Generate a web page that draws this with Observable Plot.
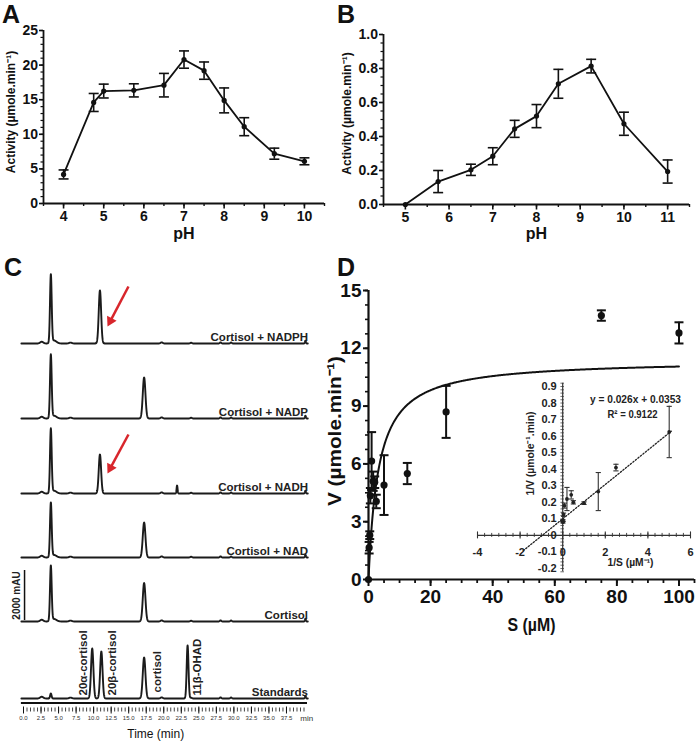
<!DOCTYPE html>
<html><head><meta charset="utf-8">
<script src="https://cdn.jsdelivr.net/npm/d3@7"></script>
<script src="https://cdn.jsdelivr.net/npm/@observablehq/plot@0.6"></script>
<style>
body{margin:0;background:#fff;}
#page{position:relative;width:697px;height:746px;overflow:hidden;background:#fff;}
.panel{position:absolute;}
.panel svg{max-width:none !important;display:block;overflow:visible;}
.letter{position:absolute;font:bold 25px "Liberation Sans",Arial,sans-serif;line-height:25px;color:#111;}
</style></head><body><div id="page"></div>
<script>
// ---------- DATA ----------
// Panel A: activity vs pH
const phA = [4, 4.75, 5, 5.75, 6.5, 7, 7.5, 8, 8.5, 9.25, 10];
const actA = [4.2, 14.6, 16.25, 16.35, 17.1, 20.8, 19.2, 14.9, 11.1, 7.2, 6.1];
const errA = [0.65, 1.3, 1.0, 0.95, 1.7, 1.25, 1.25, 1.8, 1.3, 0.8, 0.5];
const ticksAx = [4, 5, 6, 7, 8, 9, 10];
const ticksAy = [0, 5, 10, 15, 20, 25];
// Panel B
const phB = [5, 5.75, 6.5, 7, 7.5, 8, 8.5, 9.25, 10, 11];
const actB = [0, 0.135, 0.204, 0.284, 0.445, 0.52, 0.71, 0.814, 0.475, 0.194];
const errB = [0, 0.065, 0.033, 0.05, 0.05, 0.068, 0.085, 0.04, 0.068, 0.068];
const ticksBx = [5, 6, 7, 8, 9, 10, 11];
const ticksBy = [0, 0.2, 0.4, 0.6, 0.8, 1.0];
// Panel C: chromatograms (peak tables: retention time min, height mAU, sigma min)
const rowNames = ["Cortisol + NADPH", "Cortisol + NADP", "Cortisol + NADH", "Cortisol + NAD", "Cortisol", "Standards"];
const rowOffset = [14200, 11200, 8200, 5640, 3080, 0];
const peakRow    = [0, 0, 0,   1, 1, 1,   2, 2, 2, 2,   3, 3, 3,   4, 4, 4,   5, 5, 5, 5, 5];
const peakTime   = [3.9, 4.35, 10.9,  3.9, 4.35, 17.2,  3.9, 4.35, 10.9, 21.9,  3.9, 4.35, 17.2,  3.9, 4.35, 17.2,  3.9, 9.8, 11.1, 17.2, 23.4];
const peakHeight = [2720, 120, 2120,  2520, 110, 1640,  2560, 110, 1560, 320,  2160, 100, 1400,  2200, 100, 1540,  200, 2000, 1880, 1640, 2120];
const peakSigma  = [0.12, 0.35, 0.17,  0.12, 0.35, 0.19,  0.12, 0.35, 0.17, 0.07,  0.12, 0.35, 0.19,  0.12, 0.35, 0.19,  0.1, 0.17, 0.17, 0.19, 0.13];
const bumpTime   = [2.6, 6.7, 19.7, 23.9, 28.1, 29.6, 40.2];
const bumpHeight = [70, 35, 45, 30, 45, 40, 110];
const bumpSigma  = [0.22, 0.2, 0.15, 0.12, 0.1, 0.1, 0.07];
const timeMajor = [0, 2.5, 5, 7.5, 10, 12.5, 15, 17.5, 20, 22.5, 25, 27.5, 30, 32.5, 35, 37.5];
const stdLabels = ["20α-cortisol", "20β-cortisol", "cortisol", "11β-OHAD"];
const stdLabelTime = [8.56, 12.7, 19.1, 24.8];
const stdLabelBase = [120, 120, 240, 120];
const arrowRow = ["Cortisol + NADPH", "Cortisol + NADH"];
const arrowT1 = [14.97, 14.97], arrowV1 = [16480, 10560];
const arrowT2 = [11.98, 11.98], arrowV2 = [14880, 9000];
const scaleBarMAU = 2000;
// Panel D: Michaelis-Menten
const S_uM = [0, 0.2, 0.4, 0.6, 1, 1.5, 2, 2.5, 5, 12.5, 25, 75, 100];
const V_rate = [0, 1.65, 2.3, 4.35, 6.15, 5.1, 5.05, 4.05, 4.9, 5.5, 8.7, 13.7, 12.8];
const V_err = [0, 0.3, 0.2, 0.4, 1.5, 0.5, 0.3, 0.35, 1.55, 0.55, 1.35, 0.27, 0.55];
const Vmax = 11.41, Km = 3.23;
const ticksDx = [0, 20, 40, 60, 80, 100];
const ticksDy = [0, 3, 6, 9, 12, 15];
// Inset: Lineweaver-Burk
const invS = [5, 2.5, 1.67, 1, 0.5, 0.4, 0.2, 0.08, 0.04, 0.0133, 0.01];
const invV = [0.625, 0.41, 0.265, 0.195, 0.2, 0.245, 0.22, 0.18, 0.125, 0.08, 0.09];
const invErr = [0.155, 0.02, 0.115, 0.008, 0.01, 0.025, 0.07, 0.015, 0.01, 0.005, 0.005];
const fitX = [-1.85, 5.1], fitY = [-0.092, 0.63];
const insetXTicks = [-4, -2, 0, 2, 4, 6];
const insetYTicks = [-0.2, -0.1, 0, 0.1, 0.2, 0.3, 0.4, 0.5, 0.6, 0.7, 0.8, 0.9];

// ---------- HELPERS ----------
const F = '"Liberation Sans", Arial, Helvetica, sans-serif';
const FN = '"Liberation Sans Narrow", "Arial Narrow", "Liberation Sans", Arial, sans-serif';
const INK = "#111";
const RED = "#d8262c";
const capSym = {draw(ctx, size) { const r = Math.sqrt(size / Math.PI); ctx.moveTo(-r, 0); ctx.lineTo(r, 0); }};
const page = document.getElementById("page");
function place(el, left, top) { const d = document.createElement("div"); d.className = "panel"; d.style.left = left + "px"; d.style.top = top + "px"; d.appendChild(el); page.appendChild(d); return el; }
function letter(txt, left, top) { const d = document.createElement("div"); d.className = "letter"; d.textContent = txt; d.style.left = left + "px"; d.style.top = top + "px"; page.appendChild(d); }
function squeeze(svg, content, len) {
  svg.querySelectorAll("text").forEach(t => { if (t.textContent === content) { t.setAttribute("textLength", len); t.setAttribute("lengthAdjust", "spacingAndGlyphs"); } });
}
const baseStyle = {fontFamily: F, color: INK, background: "transparent", overflow: "visible"};

// ---------- PANEL A ----------
const dataA = phA.map((x, i) => ({x, y: actA[i], e: errA[i]}));
place(Plot.plot({
  width: 335, height: 255, marginLeft: 43, marginRight: 11, marginTop: 30, marginBottom: 52,
  x: {domain: [3.5, 10.5]}, y: {domain: [0, 25]}, style: baseStyle,
  marks: [
    Plot.axisX(d3.range(3.5, 10.51, 0.5), {tickSize: 3, tickFormat: () => "", strokeWidth: 1.4, label: null}),
    Plot.axisX(ticksAx, {tickSize: 5.5, tickPadding: 2.5, fontSize: 14, fontWeight: "bold", strokeWidth: 1.6, label: null}),
    Plot.axisY(d3.range(0, 25.01, 1), {tickSize: 2.5, tickFormat: () => "", strokeWidth: 1.2, label: null}),
    Plot.axisY(ticksAy, {tickSize: 4, tickPadding: 1.5, fontSize: 14, fontWeight: "bold", strokeWidth: 1.6, label: null}),
    Plot.ruleY([0], {strokeWidth: 1.8}),
    Plot.ruleX([3.5], {strokeWidth: 1.8}),
    Plot.ruleX(dataA, {x: "x", y1: d => d.y - d.e, y2: d => d.y + d.e, strokeWidth: 1.6}),
    Plot.dot(dataA, {x: "x", y: d => d.y - d.e, symbol: capSym, r: 5, stroke: INK, strokeWidth: 1.6}),
    Plot.dot(dataA, {x: "x", y: d => d.y + d.e, symbol: capSym, r: 5, stroke: INK, strokeWidth: 1.6}),
    Plot.line(dataA, {x: "x", y: "y", strokeWidth: 1.8, stroke: INK}),
    Plot.dot(dataA, {x: "x", y: "y", r: 2.6, fill: INK}),
    Plot.text(["Activity (µmole.min⁻¹)"], {frameAnchor: "left", textAnchor: "middle", dx: -32, dy: -5, rotate: -90, fontSize: 12, fontWeight: "bold"}),
    Plot.text(["pH"], {frameAnchor: "bottom", textAnchor: "middle", dy: 35, fontSize: 16, fontWeight: "bold"})
  ]
}), 0, 0);

// ---------- PANEL B ----------
const dataB = phB.map((x, i) => ({x, y: actB[i], e: errB[i]}));
place(Plot.plot({
  width: 362, height: 255, marginLeft: 48, marginRight: 8, marginTop: 34, marginBottom: 51,
  x: {domain: [4.5, 11.5]}, y: {domain: [0, 1]}, style: baseStyle,
  marks: [
    Plot.axisX(d3.range(4.5, 11.51, 0.5), {tickSize: 3, tickFormat: () => "", strokeWidth: 1.4, label: null}),
    Plot.axisX(ticksBx, {tickSize: 5.5, tickPadding: 2.5, fontSize: 14, fontWeight: "bold", strokeWidth: 1.6, label: null}),
    Plot.axisY(d3.range(0, 1.001, 0.05), {tickSize: 2.5, tickFormat: () => "", strokeWidth: 1.2, label: null}),
    Plot.axisY(ticksBy, {tickSize: 4, tickPadding: 1.5, tickFormat: d => d.toFixed(1), fontSize: 14, fontWeight: "bold", strokeWidth: 1.6, label: null}),
    Plot.ruleY([0], {strokeWidth: 1.8}),
    Plot.ruleX([4.5], {strokeWidth: 1.8}),
    Plot.ruleX(dataB, {x: "x", y1: d => d.y - d.e, y2: d => d.y + d.e, strokeWidth: 1.6}),
    Plot.dot(dataB.filter(d => d.e > 0), {x: "x", y: d => d.y - d.e, symbol: capSym, r: 5, stroke: INK, strokeWidth: 1.6}),
    Plot.dot(dataB.filter(d => d.e > 0), {x: "x", y: d => d.y + d.e, symbol: capSym, r: 5, stroke: INK, strokeWidth: 1.6}),
    Plot.line(dataB, {x: "x", y: "y", strokeWidth: 1.8, stroke: INK}),
    Plot.dot(dataB, {x: "x", y: "y", r: 2.6, fill: INK}),
    Plot.text(["Activity (µmole.min⁻¹)"], {frameAnchor: "left", textAnchor: "middle", dx: -36, dy: -6, rotate: -90, fontSize: 12, fontWeight: "bold"}),
    Plot.text(["pH"], {frameAnchor: "bottom", textAnchor: "middle", dy: 34, fontSize: 16, fontWeight: "bold"})
  ]
}), 335, 0);

// ---------- PANEL C ----------
const tGrid = d3.range(-0.3, 40.55, 0.02);
function signal(i, t) {
  let s = 0;
  peakRow.forEach((r, k) => { if (r === i) s += peakHeight[k] * Math.exp(-0.5 * ((t - peakTime[k]) / peakSigma[k]) ** 2); });
  bumpTime.forEach((bt, k) => { s += bumpHeight[k] * Math.exp(-0.5 * ((t - bt) / bumpSigma[k]) ** 2); });
  return s;
}
const traces = rowNames.flatMap((name, i) => tGrid.map(t => ({row: name, t, v: rowOffset[i] + signal(i, t)})));
const rowData = rowNames.map((name, i) => ({name, v: rowOffset[i]}));
const stdData = stdLabels.map((name, i) => ({name, t: stdLabelTime[i], v: stdLabelBase[i]}));
const timeMinor = d3.range(0, 40.01, 0.5);
const pxPerMin = 7.013, mauPerPx = 40;
const arrows = arrowRow.map((r, i) => {
  const dxp = (arrowT2[i] - arrowT1[i]) * pxPerMin, dyp = -(arrowV2[i] - arrowV1[i]) / mauPerPx;
  const L = Math.hypot(dxp, dyp), ux = dxp / L, uy = dyp / L;
  return {
    t1: arrowT1[i], v1: arrowV1[i],
    tl: arrowT2[i] - 8 * ux / pxPerMin, vl: arrowV2[i] + 8 * uy * mauPerPx,
    tc: arrowT2[i] - 6.2 * ux / pxPerMin, vc: arrowV2[i] + 6.2 * uy * mauPerPx,
    rot: Math.atan2(ux, -uy) * 180 / Math.PI
  };
});
place(Plot.plot({
  width: 320, height: 491, marginLeft: 23, marginRight: 16.5, marginTop: 15, marginBottom: 43,
  x: {domain: [0, 40], axis: null}, y: {domain: [-200, 17120], axis: null}, style: baseStyle,
  marks: [
    Plot.line(traces, {x: "t", y: "v", z: "row", stroke: "#1b1b1b", strokeWidth: 1.9}),
    Plot.ruleY([-180], {x1: -0.3, x2: 40.5, strokeWidth: 2}),
    Plot.ruleX(timeMinor, {x: d => d, y1: -380, y2: -540, strokeWidth: 0.8}),
    Plot.ruleX(timeMajor, {x: d => d, y1: -340, y2: -620, strokeWidth: 1}),
    Plot.text(timeMajor, {x: d => d, y: -800, text: d => d.toFixed(1), fontSize: 6, fontFamily: FN, fill: "#333"}),
    Plot.text(["min"], {x: 40.4, y: -780, fontSize: 8, fontFamily: FN, fill: "#333"}),
    Plot.text(["Time (min)"], {frameAnchor: "bottom", textAnchor: "middle", dx: -8, dy: 34, fontSize: 12}),
    Plot.text(rowData, {y: "v", text: "name", frameAnchor: "right", dx: 4, dy: -2.5, textAnchor: "end", lineAnchor: "bottom", fontSize: 11.5, fontWeight: "bold", fill: "#222"}),
    Plot.text(stdData, {x: "t", y: "v", text: "name", rotate: -90, textAnchor: "start", fontSize: 11.5, fontWeight: "bold", fill: "#222"}),
    Plot.ruleX([0.15], {y1: 3120, y2: 3120 + scaleBarMAU, strokeWidth: 1.5}),
    Plot.text(["2000 mAU"], {x: -1.0, y: 3120 + scaleBarMAU / 2, rotate: -90, fontSize: 10, fontWeight: "bold", fill: "#222"}),
    Plot.link(arrows, {x1: "t1", y1: "v1", x2: "tl", y2: "vl", stroke: RED, strokeWidth: 2.5}),
    Plot.dot(arrows, {x: "tc", y: "vc", symbol: "triangle", r: 4, rotate: "rot", fill: RED, stroke: "none"})
  ]
}), 0, 255);

// ---------- PANEL D ----------
const dataD = S_uM.map((s, i) => ({s, v: V_rate[i], e: V_err[i]}));
const curveD = d3.range(0, 100.01, 0.25).map(s => ({s, v: Vmax * s / (Km + s)}));
const svgD = place(Plot.plot({
  width: 372, height: 370, marginLeft: 43, marginRight: 3, marginTop: 10, marginBottom: 71,
  x: {domain: [0, 105]}, y: {domain: [0, 15]}, style: {...baseStyle, fontFamily: FN},
  marks: [
    Plot.axisX(d3.range(0, 105.01, 5), {tickSize: 4, tickFormat: () => "", strokeWidth: 1.8, label: null}),
    Plot.axisX(ticksDx, {tickSize: 7, tickPadding: 3, fontSize: 19, fontWeight: "bold", strokeWidth: 2, label: null}),
    Plot.axisY(d3.range(0, 15.01, 0.75), {tickSize: 3, tickFormat: () => "", strokeWidth: 1.6, label: null}),
    Plot.axisY(ticksDy, {tickSize: 5, tickPadding: 2, fontSize: 19, fontWeight: "bold", strokeWidth: 2, label: null}),
    Plot.ruleY([0], {strokeWidth: 2.2}),
    Plot.ruleX([0], {strokeWidth: 2.2}),
    Plot.line(curveD, {x: "s", y: "v", strokeWidth: 2, stroke: INK}),
    Plot.ruleX(dataD.filter(d => d.e > 0), {x: "s", y1: d => d.v - d.e, y2: d => d.v + d.e, strokeWidth: 2}),
    Plot.dot(dataD.filter(d => d.e > 0), {x: "s", y: d => d.v - d.e, symbol: capSym, r: 4.5, stroke: INK, strokeWidth: 2}),
    Plot.dot(dataD.filter(d => d.e > 0), {x: "s", y: d => d.v + d.e, symbol: capSym, r: 4.5, stroke: INK, strokeWidth: 2}),
    Plot.dot(dataD, {x: "s", y: "v", r: 3.6, fill: INK}),
    Plot.text(["V (µmole.min⁻¹)"], {frameAnchor: "left", textAnchor: "middle", dx: -34, dy: -4, rotate: -90, fontSize: 19, fontWeight: "bold"}),
    Plot.text(["S (µM)"], {frameAnchor: "bottom", textAnchor: "middle", dy: 51, fontSize: 19, fontWeight: "bold"})
  ]
}), 325, 280);
squeeze(svgD, "V (µmole.min⁻¹)", 150);
squeeze(svgD, "S (µM)", 48);

// ---------- INSET ----------
const dataI = invS.map((x, i) => ({x, y: invV[i], e: invErr[i]}));
const fitLine = fitX.map((x, i) => ({x, y: fitY[i]}));
const xMinorI = d3.range(-4, 6.001, 1 / 3);
const yMinorI = d3.range(-0.22, 0.921, 0.02);
const pxX = 21.3, pxY = 166;
const svgI = place(Plot.plot({
  width: 257, height: 200, marginLeft: 37, marginRight: 7, marginTop: 11, marginBottom: 7,
  x: {domain: [-4, 6], axis: null}, y: {domain: [-0.2, 0.9], axis: null}, style: {...baseStyle, fontFamily: FN},
  marks: [
    Plot.ruleY([0], {x1: -4, x2: 6, strokeWidth: 1.2, stroke: "#333"}),
    Plot.ruleX(xMinorI, {x: d => d, y1: -2 / pxY, y2: 2 / pxY, strokeWidth: 0.9, stroke: "#333"}),
    Plot.ruleX(insetXTicks, {x: d => d, y1: -3.5 / pxY, y2: 3.5 / pxY, strokeWidth: 1.1, stroke: "#333"}),
    Plot.ruleX([0], {y1: -0.22, y2: 0.92, strokeWidth: 1.2, stroke: "#333"}),
    Plot.ruleY(yMinorI, {y: d => d, x1: -1.8 / pxX, x2: 1.8 / pxX, strokeWidth: 0.7, stroke: "#333"}),
    Plot.text(insetXTicks, {x: d => d, y: 0, dy: 17, text: d => String(d), fontSize: 11, fontWeight: "bold", fill: "#222"}),
    Plot.text(insetYTicks, {x: 0, y: d => d, dx: -6, textAnchor: "end", text: d => d === 0 ? "0" : d.toFixed(1), fontSize: 11, fontWeight: "bold", fill: "#222"}),
    Plot.line(fitLine, {x: "x", y: "y", strokeDasharray: "1.4,1.8", strokeWidth: 1.3, stroke: "#222"}),
    Plot.ruleX(dataI, {x: "x", y1: d => d.y - d.e, y2: d => d.y + d.e, strokeWidth: 1.1, stroke: "#333"}),
    Plot.dot(dataI, {x: "x", y: d => d.y - d.e, symbol: capSym, r: 2.6, stroke: "#333", strokeWidth: 1.1}),
    Plot.dot(dataI, {x: "x", y: d => d.y + d.e, symbol: capSym, r: 2.6, stroke: "#333", strokeWidth: 1.1}),
    Plot.dot(dataI, {x: "x", y: "y", r: 1.9, fill: "#222"}),
    Plot.text(["y = 0.026x + 0.0353"], {frameAnchor: "top-right", textAnchor: "middle", dx: -55, dy: 9, fontSize: 10.5, fontWeight: "bold", fill: "#222"}),
    Plot.text(["R² = 0.9122"], {frameAnchor: "top-right", textAnchor: "middle", dx: -58, dy: 24, fontSize: 10.5, fontWeight: "bold", fill: "#222"}),
    Plot.text(["1/S (µM⁻¹)"], {frameAnchor: "bottom-right", textAnchor: "middle", dx: -60, dy: -3, fontSize: 10, fontWeight: "bold", fill: "#222"}),
    Plot.text(["1/V (µmole⁻¹.min)"], {frameAnchor: "left", textAnchor: "middle", dx: 53, dy: -24, rotate: -90, fontSize: 10.5, fontWeight: "bold", fill: "#222"})
  ]
}), 440, 375);
squeeze(svgI, "y = 0.026x + 0.0353", 91);
squeeze(svgI, "R² = 0.9122", 50);
squeeze(svgI, "1/S (µM⁻¹)", 46);
squeeze(svgI, "1/V (µmole⁻¹.min)", 84);

letter("A", 2, 2);
letter("B", 337, 2);
letter("C", 4, 255);
letter("D", 337, 255);
</script></body></html>
